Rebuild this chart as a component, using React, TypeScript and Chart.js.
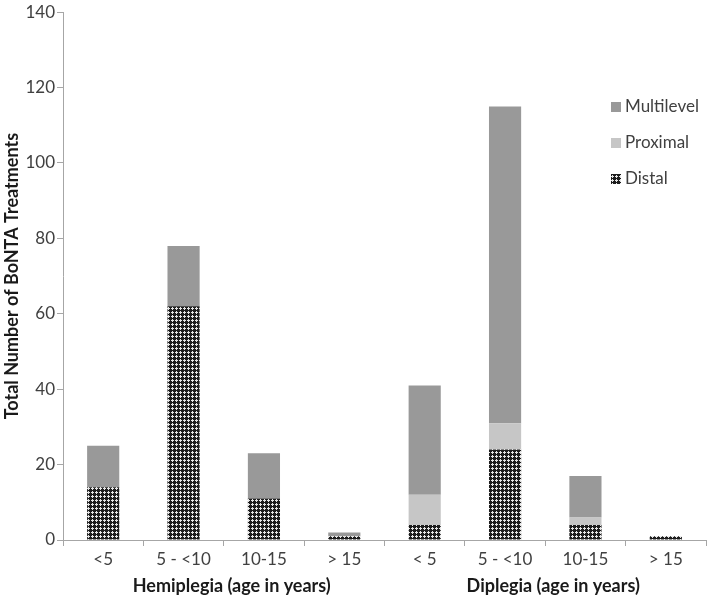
import React, { useEffect, useRef } from 'react';
import { Chart, registerables } from 'chart.js';

Chart.register(...registerables);

const categories = ['<5', '5 - <10', '10-15', '> 15', '< 5', '5 - <10', '10-15', '> 15'];
const groups = ['Hemiplegia (age in years)', 'Diplegia (age in years)'];
const distal = [14, 62, 11, 1, 4, 24, 4, 1];
const proximal = [0, 0, 0, 0, 8, 7, 2, 0];
const multilevel = [11, 16, 12, 1, 29, 84, 11, 0];
const yTitle = 'Total Number of BoNTA Treatments';

const FONT = 'Lato';
const AXIS = '#a6a6a6';
const TEXT = '#404040';

function makePattern(ctx: CanvasRenderingContext2D) {
  const c = document.createElement('canvas');
  c.width = 4;
  c.height = 4;
  const g = c.getContext('2d')!;
  g.fillStyle = '#1c1c1c';
  g.fillRect(0, 0, 4, 4);
  g.fillStyle = '#e6e6e6';
  g.fillRect(0, 0, 2, 1);
  g.fillRect(3, 0, 1, 1);
  g.fillRect(0, 1, 1, 1);
  g.fillRect(0, 3, 1, 1);
  return ctx.createPattern(c, 'repeat')!;
}

const legendPlugin = {
  id: 'customLegend',
  afterDraw(chart: any) {
    const ctx = chart.ctx as CanvasRenderingContext2D;
    const order = [2, 1, 0];
    ctx.save();
    ctx.font = `17px ${FONT}`;
    ctx.textBaseline = 'middle';
    order.forEach((di, i) => {
      const ds = chart.data.datasets[di];
      const y = 107 + i * 36;
      const x = 611;
      ctx.fillStyle = ds.backgroundColor;
      ctx.fillRect(x, y - 5, 10, 10);
      ctx.fillStyle = TEXT;
      ctx.fillText(ds.label, x + 14, y);
    });
    ctx.restore();
  },
};

export default function App() {
  const ref = useRef<HTMLCanvasElement>(null);
  useEffect(() => {
    const canvas = ref.current!;
    const ctx = canvas.getContext('2d')!;
    const pattern = makePattern(ctx);
    const chart = new Chart(ctx, {
      type: 'bar',
      data: {
        labels: categories,
        datasets: [
          { label: 'Distal', data: distal, backgroundColor: pattern as any, categoryPercentage: 1, barPercentage: 0.4 },
          { label: 'Proximal', data: proximal, backgroundColor: '#c6c6c6', categoryPercentage: 1, barPercentage: 0.4 },
          { label: 'Multilevel', data: multilevel, backgroundColor: '#999999', categoryPercentage: 1, barPercentage: 0.4 },
        ],
      },
      options: {
        responsive: false,
        animation: false,
        layout: { padding: { top: 8, right: 3, left: 0, bottom: 0 } },
        plugins: { legend: { display: false }, tooltip: { enabled: false } },
        scales: {
          x: {
            type: 'category',
            stacked: true,
            offset: true,
            grid: { display: true, offset: true, drawOnChartArea: false, drawTicks: true, tickLength: 6, color: AXIS },
            border: { display: true, color: AXIS, width: 1 },
            ticks: { font: { family: FONT, size: 17 }, color: TEXT, padding: 3, maxRotation: 0, autoSkip: false },
            afterFit: (s: any) => { s.height = 33; },
          },
          x2: {
            type: 'category',
            labels: groups,
            position: 'bottom',
            offset: true,
            grid: { display: false, drawTicks: false },
            border: { display: false },
            ticks: { font: { family: FONT, size: 18, weight: 'bold' }, color: '#1a1a1a', padding: 2, labelOffset: 8, maxRotation: 0, autoSkip: false },
            afterFit: (s: any) => { s.height = 27; },
          },
          y: {
            stacked: true,
            min: 0,
            max: 140,
            ticks: { stepSize: 20, font: { family: FONT, size: 17 }, color: TEXT, padding: 2 },
            grid: { display: true, drawOnChartArea: false, drawTicks: true, tickLength: 6, color: AXIS },
            border: { display: true, color: AXIS, width: 1 },
            title: { display: true, text: yTitle, font: { family: FONT, size: 18, weight: 'bold' }, color: '#1a1a1a', padding: { top: 1, bottom: 0 } },
            afterFit: (s: any) => { s.width = 63; },
          },
        },
      },
      plugins: [legendPlugin],
    } as any);
    return () => chart.destroy();
  }, []);
  return (
    <div style={{ position: 'absolute', left: 0, top: 0, width: 709, height: 600 }}>
      <canvas ref={ref} width={709} height={600} />
    </div>
  );
}
